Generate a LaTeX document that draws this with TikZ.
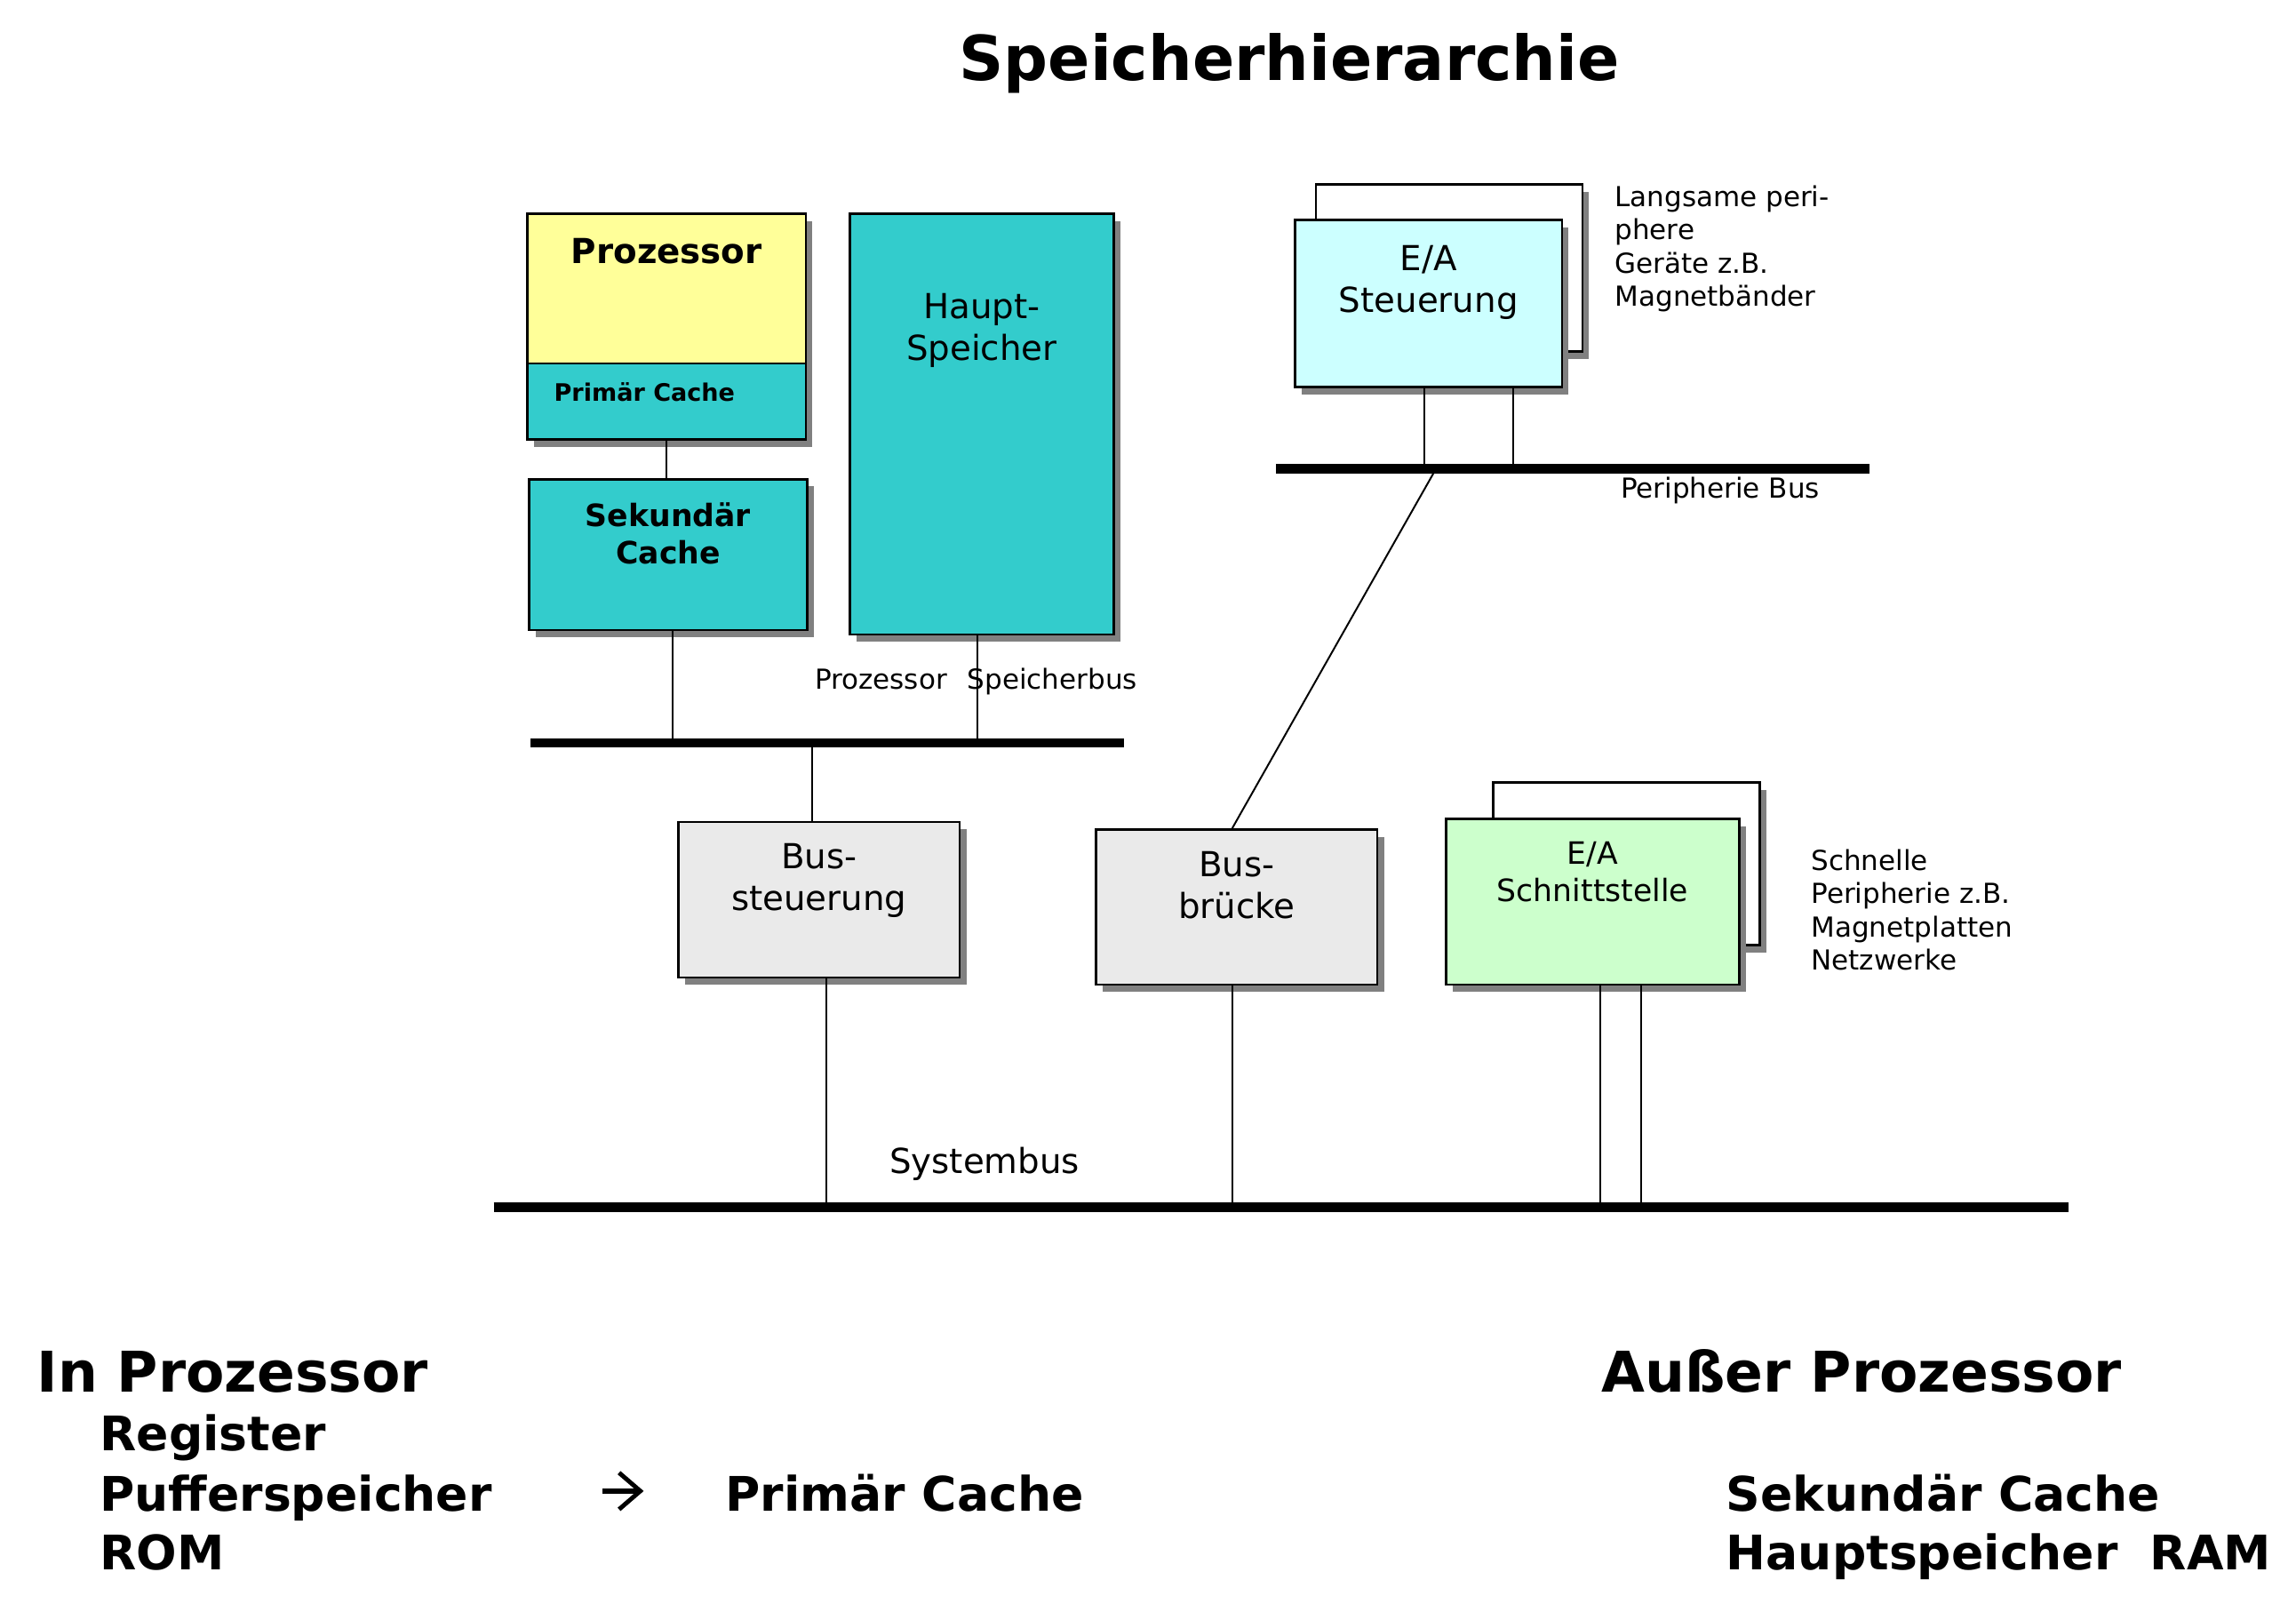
\documentclass[tikz,border=0pt]{standalone}
\usepackage{fontspec}
\setmainfont{DejaVu Sans}
\usetikzlibrary{shadows}
\definecolor{procyellow}{HTML}{FFFF99}
\definecolor{tealbox}{HTML}{33CCCC}
\definecolor{lightcyanbox}{HTML}{CCFFFF}
\definecolor{lightgreenbox}{HTML}{CCFFCC}
\definecolor{boxgray}{HTML}{EAEAEA}
\tikzset{
  box/.style={draw=black, line width=1.6pt, inner sep=0pt,
    drop shadow={shadow xshift=4.5pt, shadow yshift=-5pt, fill=black!50, opacity=1}},
  bus/.style={line width=6.5pt, line cap=butt},
  conn/.style={line width=1.2pt},
  txt/.style={inner sep=0pt, anchor=base, align=center},
  boxtext/.style={txt, font=\fontsize{23.5}{28.5}\selectfont},
  boxbold/.style={txt, font=\fontsize{23.5}{26}\selectfont\bfseries},
  small/.style={inner sep=0pt, anchor=base west, align=left, font=\fontsize{18.8}{22.7}\selectfont},
  bighead/.style={inner sep=0pt, anchor=base west, font=\fontsize{38.3}{46}\selectfont\bfseries},
  sub/.style={inner sep=0pt, anchor=base west, font=\fontsize{32.5}{40}\selectfont\bfseries}
}
\begin{document}
\begin{tikzpicture}[x=1pt,y=-1pt]
\useasboundingbox (0,0) rectangle (1567,1100);
\fill[white] (0,0) rectangle (1567,1100);

% title
\node[txt, font=\fontsize{42.3}{50}\selectfont\bfseries] (title) at (880,55) {Speicherhierarchie};

% processor side boxes
\node[box, fill=procyellow, minimum width=190pt, minimum height=102pt] (proc) at (455,197) {};
\node[box, fill=tealbox, minimum width=190pt, minimum height=52pt] (prim) at (455,274) {};
\node[box, fill=tealbox, minimum width=190pt, minimum height=103pt] (sek) at (456,378.5) {};
\node[box, fill=tealbox, minimum width=180pt, minimum height=287pt] (haupt) at (670,289.5) {};

% bus controllers
\node[box, fill=boxgray, minimum width=192pt, minimum height=106pt] (bst) at (559,614) {};
\node[box, fill=boxgray, minimum width=192pt, minimum height=106pt] (bbr) at (844,619) {};

% I/O stacks
\node[box, fill=white, minimum width=182pt, minimum height=111pt] (schnB) at (1110,589.5) {};
\node[box, fill=lightgreenbox, minimum width=200pt, minimum height=113pt] (schn) at (1087,615.5) {};
\node[box, fill=white, minimum width=182pt, minimum height=114pt] (steuB) at (989,183) {};
\node[box, fill=lightcyanbox, minimum width=182pt, minimum height=114pt] (steu) at (975,207) {};

% buses
\coordinate (pmW) at (362,507);
\coordinate (pmE) at (767,507);
\coordinate (pbW) at (871,320);
\coordinate (pbE) at (1276,320);
\coordinate (sbW) at (337,824);
\coordinate (sbE) at (1412,824);
\coordinate (pj) at (980,320);
\draw[bus] (pmW) -- (pmE);
\draw[bus] (pbW) -- (pbE);
\draw[bus] (sbW) -- (sbE);

% connectors
\draw[conn] (prim.south) -- (prim.south |- sek.north);
\draw[conn] ([xshift=3pt]sek.south) -- ([xshift=3pt]sek.south |- pmW);
\draw[conn] ([xshift=-3pt]haupt.south) -- ([xshift=-3pt]haupt.south |- pmW);
\draw[conn] ([xshift=-5pt]bst.north |- pmW) -- ([xshift=-5pt]bst.north);
\draw[conn] ([xshift=5pt]bst.south) -- ([xshift=5pt]bst.south |- sbW);
\draw[conn] ([xshift=-3pt]bbr.south) -- ([xshift=-3pt]bbr.south |- sbW);
\draw[conn] ([xshift=-3pt]bbr.north) -- (pj);
\draw[conn] ([xshift=5pt]schn.south) -- ([xshift=5pt]schn.south |- sbW);
\draw[conn] ([xshift=33pt]schn.south) -- ([xshift=33pt]schn.south |- sbW);
\draw[conn] ([xshift=-3pt]steu.south) -- ([xshift=-3pt]steu.south |- pbW);
\draw[conn] ([xshift=58pt]steu.south) -- ([xshift=58pt]steu.south |- pbW);

% box texts (base anchor = baseline of last line)
\node[boxbold] (tproc) at (455,180) {Prozessor};
\node[inner sep=0pt, anchor=base west, font=\fontsize{16.4}{20}\selectfont\bfseries] (tprim) at (378,274) {Primär Cache};
\node[txt, font=\fontsize{21}{26}\selectfont\bfseries] (tsek) at (456,385) {Sekundär\\Cache};
\node[boxtext] (thaupt) at (670,246) {Haupt-\\Speicher};
\node[boxtext] (tsteu) at (975,213) {E/A\\Steuerung};
\node[boxtext] (tbst) at (559,621) {Bus-\\steuerung};
\node[boxtext] (tbbr) at (844,627) {Bus-\\brücke};
\node[txt, font=\fontsize{21}{25}\selectfont] (tschn) at (1087,615) {E/A\\Schnittstelle};

% bus labels
\node[small] (lpm) at (556,470) {Prozessor\hspace{14pt}Speicherbus};
\node[boxtext] (lsys) at (672,801) {Systembus};
\node[small] (lper) at (1106,340) {Peripherie Bus};
\node[small] (llang) at (1102,209) {Langsame peri-\\phere\\Geräte z.B.\\Magnetbänder};
\node[small] (lschn) at (1236,662) {Schnelle\\Peripherie z.B.\\Magnetplatten\\Netzwerke};

% bottom text
\node[bighead] (inp) at (25,950) {In Prozessor};
\node[sub] (reg) at (68,990) {Register};
\node[sub] (puf) at (68,1031) {Pufferspeicher};
\coordinate (arrS) at (411,1017.5);
\coordinate (arrT) at (437,1017.5);
\coordinate (arrU) at (422.5,1005);
\coordinate (arrL) at (422.5,1030);
\draw[line width=3.6pt, line cap=butt] (arrS) -- ([xshift=-2pt]arrT);
\draw[line width=3pt, line cap=butt, line join=miter, miter limit=10] (arrU) -- (arrT) -- (arrL);
\node[sub] (pc) at (495,1031) {Primär Cache};
\node[sub] (rom) at (68,1071) {ROM};
\node[bighead] (aus) at (1093,950) {Außer Prozessor};
\node[sub] (sc) at (1178,1031) {Sekundär Cache};
\node[sub] (hs) at (1178,1071) {Hauptspeicher\hspace{22pt}RAM};
\end{tikzpicture}
\end{document}
